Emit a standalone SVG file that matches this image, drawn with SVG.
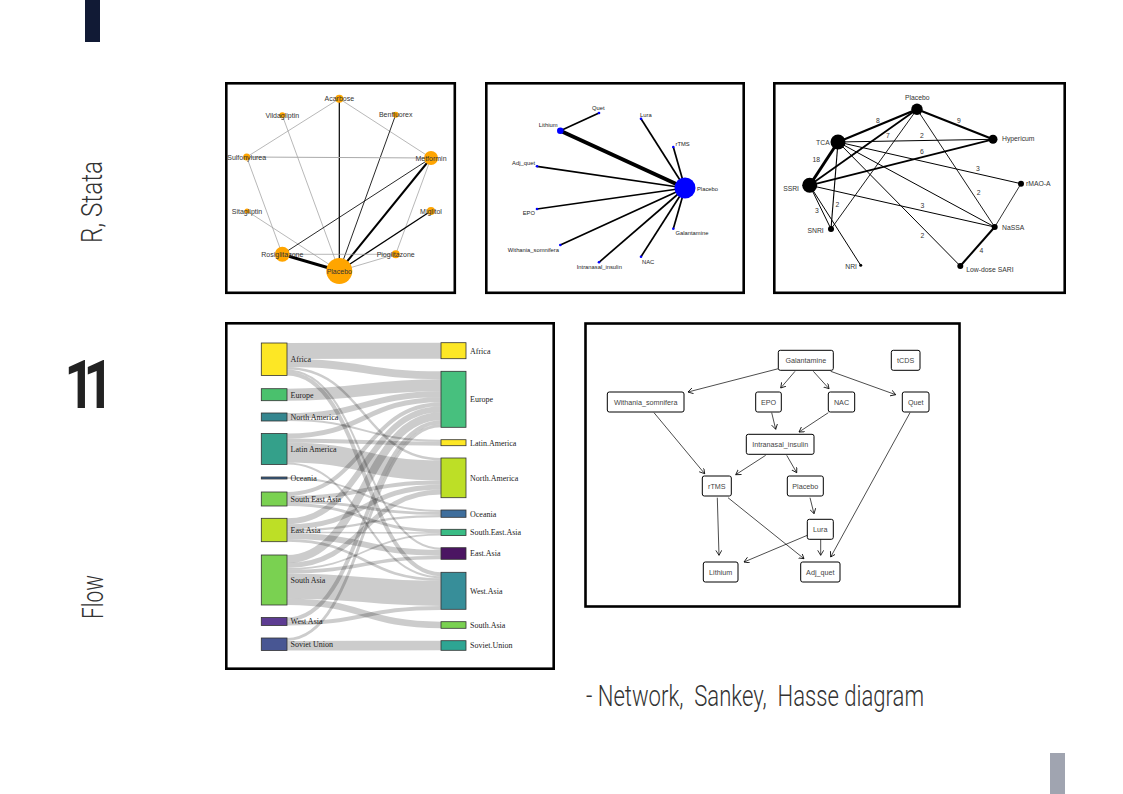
<svg xmlns="http://www.w3.org/2000/svg" width="1123" height="794" viewBox="0 0 1123 794">
<defs>
<style>
.panel{fill:#fff;stroke:#000;stroke-width:2.6}
.slide{font-family:"Roboto","Liberation Sans",sans-serif;fill:#333;font-weight:300}
.big{font-family:"Roboto","Liberation Sans",sans-serif;fill:#222;font-weight:700}
.n1{fill:#FFA500}
.t1{font-family:"Liberation Sans",Arial,sans-serif;font-size:7px;fill:#333;text-anchor:middle}
.t2{font-family:"Liberation Sans",Arial,sans-serif;font-size:5.8px;fill:#222}
.t3{font-family:"Liberation Sans",Arial,sans-serif;font-size:6.8px;fill:#333}
.t5{font-family:"Liberation Sans",Arial,sans-serif;font-size:7.2px;fill:#444;text-anchor:middle}
.ts{font-family:"Liberation Serif","Times New Roman",serif;font-size:8px;fill:#222}
.lk{fill:none;stroke:#000;stroke-opacity:0.2}
.sn{stroke:#333;stroke-width:0.8}
.hb{fill:#fff;stroke:#000;stroke-width:1}
.ha{fill:none;stroke:#000;stroke-width:0.7;marker-end:url(#arr)}
</style>
<marker id="arr" markerUnits="userSpaceOnUse" markerWidth="8" markerHeight="8" refX="5" refY="3" orient="auto">
<path d="M0,0 L5,3 L0,6" fill="none" stroke="#000" stroke-width="0.8"/>
</marker>
</defs>
<rect width="1123" height="794" fill="#fff"/>
<g id="slide">
<rect x="85" y="0" width="15" height="42" fill="#111a35"/>
<rect x="1050" y="753" width="15" height="41" fill="#a0a4b0"/>
<text class="slide" transform="translate(102,243) rotate(-90)" font-size="29" textLength="82" lengthAdjust="spacingAndGlyphs">R, Stata</text>
<text class="slide" transform="translate(103,619) rotate(-90)" font-size="29" textLength="44" lengthAdjust="spacingAndGlyphs">Flow</text>
<text class="big" transform="translate(68,408) scale(0.78,1)" x="-4.5 19.9" y="0" font-size="67">11</text>
<text class="slide" x="586" y="706" font-size="29" fill="#222" textLength="338" lengthAdjust="spacingAndGlyphs">- Network,&#160; Sankey,&#160; Hasse diagram</text>
</g>
<g id="panel1">
<rect class="panel" x="226.3" y="83.3" width="228.5" height="209.5"/>
<g id="p1-edges" fill="none">
<line x1="339.3" y1="98.7" x2="339.3" y2="271" stroke="#000" stroke-width="1.2"/>
<line x1="339.3" y1="98.7" x2="246.7" y2="157" stroke="#999" stroke-width="0.7"/>
<line x1="339.3" y1="98.7" x2="431" y2="158" stroke="#999" stroke-width="0.7"/>
<line x1="282.3" y1="115.3" x2="339.3" y2="271" stroke="#999" stroke-width="0.7"/>
<line x1="395.7" y1="114.7" x2="339.3" y2="271" stroke="#111" stroke-width="0.9"/>
<line x1="246.7" y1="157" x2="431" y2="158" stroke="#aaa" stroke-width="1"/>
<line x1="246.7" y1="157" x2="282.3" y2="254.3" stroke="#999" stroke-width="0.7"/>
<line x1="247" y1="211" x2="339.3" y2="271" stroke="#999" stroke-width="0.7"/>
<line x1="431" y1="158" x2="282.3" y2="254.3" stroke="#111" stroke-width="0.9"/>
<line x1="431" y1="158" x2="339.3" y2="271" stroke="#000" stroke-width="2"/>
<line x1="431" y1="158" x2="395.7" y2="254.3" stroke="#999" stroke-width="0.7"/>
<line x1="431" y1="211" x2="339.3" y2="271" stroke="#000" stroke-width="1.3"/>
<line x1="282.3" y1="254.3" x2="339.3" y2="271" stroke="#000" stroke-width="3"/>
<line x1="282.3" y1="254.3" x2="395.7" y2="254.3" stroke="#999" stroke-width="0.7"/>
<line x1="395.7" y1="254.3" x2="339.3" y2="271" stroke="#999" stroke-width="0.7"/>
</g>
<g id="p1-acarbose"><circle class="n1" cx="339.3" cy="98.7" r="4"/><text class="t1" x="339.3" y="101.2">Acarbose</text></g>
<g id="p1-vildagliptin"><circle class="n1" cx="282.3" cy="115.3" r="3"/><text class="t1" x="282.3" y="117.8">Vildagliptin</text></g>
<g id="p1-benfluorex"><circle class="n1" cx="395.7" cy="114.7" r="3"/><text class="t1" x="395.7" y="117.2">Benfluorex</text></g>
<g id="p1-sulfonylurea"><circle class="n1" cx="246.7" cy="157" r="3.5"/><text class="t1" x="246.7" y="159.5">Sulfonylurea</text></g>
<g id="p1-metformin"><circle class="n1" cx="431" cy="158" r="7"/><text class="t1" x="431" y="160.5">Metformin</text></g>
<g id="p1-sitagliptin"><circle class="n1" cx="247" cy="211" r="2.5"/><text class="t1" x="247" y="213.5">Sitagliptin</text></g>
<g id="p1-miglitol"><circle class="n1" cx="431" cy="211" r="4"/><text class="t1" x="431" y="213.5">Miglitol</text></g>
<g id="p1-rosiglitazone"><circle class="n1" cx="282.3" cy="254.3" r="7.5"/><text class="t1" x="282.3" y="256.8">Rosiglitazone</text></g>
<g id="p1-pioglitazone"><circle class="n1" cx="395.7" cy="254.3" r="4"/><text class="t1" x="395.7" y="256.8">Pioglitazone</text></g>
<g id="p1-placebo"><circle class="n1" cx="339.3" cy="271" r="13"/><text class="t1" x="339.3" y="273.5">Placebo</text></g>
</g>
<g id="panel2">
<rect class="panel" x="486.3" y="83.3" width="257.4" height="209.5"/>
<g id="p2-edges" stroke="#000" fill="none">
<line x1="560.3" y1="130.7" x2="685" y2="188" stroke-width="4"/>
<line x1="560.3" y1="130.7" x2="599" y2="113" stroke-width="1.7"/>
<line x1="641" y1="118.7" x2="685" y2="188" stroke-width="1.7"/>
<line x1="673.3" y1="147" x2="685" y2="188" stroke-width="1.7"/>
<line x1="537" y1="166.3" x2="685" y2="188" stroke-width="1.7"/>
<line x1="537" y1="209" x2="685" y2="188" stroke-width="1.7"/>
<line x1="560.3" y1="245" x2="685" y2="188" stroke-width="1.7"/>
<line x1="599" y1="262.3" x2="685" y2="188" stroke-width="1.7"/>
<line x1="641" y1="256.7" x2="685" y2="188" stroke-width="1.7"/>
<line x1="673.3" y1="228.7" x2="685" y2="188" stroke-width="1.7"/>
</g>
<g id="p2-placebo"><circle cx="685" cy="188" r="10.5" fill="#00f"/><text class="t2" x="697" y="190.5">Placebo</text></g>
<g id="p2-lithium"><circle cx="560.3" cy="130.7" r="3.3" fill="#00f"/><text class="t2" x="557.5" y="127" text-anchor="end">Lithium</text></g>
<g id="p2-quet"><circle cx="599" cy="113" r="1.3" fill="#00f"/><text class="t2" x="598.3" y="110.3" text-anchor="middle">Quet</text></g>
<g id="p2-lura"><circle cx="641" cy="118.7" r="1.3" fill="#00f"/><text class="t2" x="640" y="117">Lura</text></g>
<g id="p2-rtms"><circle cx="673.3" cy="147" r="1.3" fill="#00f"/><text class="t2" x="675.5" y="145.7">rTMS</text></g>
<g id="p2-adjquet"><circle cx="537" cy="166.3" r="1.3" fill="#00f"/><text class="t2" x="535" y="165" text-anchor="end">Adj_quet</text></g>
<g id="p2-epo"><circle cx="537" cy="209" r="1.3" fill="#00f"/><text class="t2" x="535" y="215.3" text-anchor="end">EPO</text></g>
<g id="p2-withania"><circle cx="560.3" cy="245" r="1.3" fill="#00f"/><text class="t2" x="559" y="252" text-anchor="end">Withania_somnifera</text></g>
<g id="p2-intranasal"><circle cx="599" cy="262.3" r="1.3" fill="#00f"/><text class="t2" x="599.3" y="269" text-anchor="middle">Intranasal_insulin</text></g>
<g id="p2-nac"><circle cx="641" cy="256.7" r="1.3" fill="#00f"/><text class="t2" x="642" y="264">NAC</text></g>
<g id="p2-galantamine"><circle cx="673.3" cy="228.7" r="1.3" fill="#00f"/><text class="t2" x="675.5" y="235">Galantamine</text></g>
</g>
<g id="panel3">
<rect class="panel" x="774.3" y="83.3" width="290.4" height="209.5"/>
<g id="p3-edges" stroke="#000" fill="none">
<line x1="917" y1="109.3" x2="838" y2="142" stroke-width="2.2"/>
<line x1="917" y1="109.3" x2="993" y2="139.3" stroke-width="2"/>
<line x1="917" y1="109.3" x2="809.7" y2="185.3" stroke-width="1.8"/>
<line x1="917" y1="109.3" x2="831" y2="229" stroke-width="0.9"/>
<line x1="917" y1="109.3" x2="994.7" y2="227" stroke-width="0.9"/>
<line x1="838" y1="142" x2="809.7" y2="185.3" stroke-width="3"/>
<line x1="838" y1="142" x2="993" y2="139.3" stroke-width="1"/>
<line x1="838" y1="142" x2="1021" y2="183.7" stroke-width="1"/>
<line x1="838" y1="142" x2="994.7" y2="227" stroke-width="1"/>
<line x1="838" y1="142" x2="960.3" y2="266" stroke-width="1"/>
<line x1="838" y1="142" x2="831" y2="229" stroke-width="1.1"/>
<line x1="809.7" y1="185.3" x2="993" y2="139.3" stroke-width="1.8"/>
<line x1="809.7" y1="185.3" x2="994.7" y2="227" stroke-width="1"/>
<line x1="809.7" y1="185.3" x2="831" y2="229" stroke-width="1"/>
<line x1="809.7" y1="185.3" x2="860.7" y2="265.3" stroke-width="1"/>
<line x1="994.7" y1="227" x2="1021" y2="183.7" stroke-width="0.8"/>
<line x1="994.7" y1="227" x2="960.3" y2="266" stroke-width="2"/>
</g>
<g id="p3-edge-labels" class="t3" text-anchor="middle">
<text x="878" y="122.5">8</text>
<text x="959" y="122.5">9</text>
<text x="888" y="137.5">7</text>
<text x="922" y="137.5">2</text>
<text x="922" y="153.5">6</text>
<text x="816.3" y="161.5">18</text>
<text x="978" y="171">3</text>
<text x="978.7" y="195">2</text>
<text x="922.3" y="207.5">3</text>
<text x="837.3" y="207">2</text>
<text x="817" y="212.5">3</text>
<text x="922.3" y="238.3">2</text>
<text x="981.3" y="252.5">4</text>
</g>
<g id="p3-placebo"><circle cx="917" cy="109.3" r="5.7"/><text class="t3" x="917.3" y="100.3" text-anchor="middle">Placebo</text></g>
<g id="p3-tca"><circle cx="838" cy="142" r="7.5"/><text class="t3" x="829.7" y="144.5" text-anchor="end">TCA</text></g>
<g id="p3-ssri"><circle cx="809.7" cy="185.3" r="7.5"/><text class="t3" x="799" y="191.3" text-anchor="end">SSRI</text></g>
<g id="p3-hypericum"><circle cx="993" cy="139.3" r="4.5"/><text class="t3" x="1002" y="141.2">Hypericum</text></g>
<g id="p3-rmaoa"><circle cx="1021" cy="183.7" r="3"/><text class="t3" x="1026" y="186.2">rMAO-A</text></g>
<g id="p3-snri"><circle cx="831" cy="229" r="3"/><text class="t3" x="823.7" y="232.6" text-anchor="end">SNRI</text></g>
<g id="p3-nassa"><circle cx="994.7" cy="227" r="3"/><text class="t3" x="1002" y="230">NaSSA</text></g>
<g id="p3-nri"><circle cx="860.7" cy="265.3" r="1.5"/><text class="t3" x="857" y="269.3" text-anchor="end">NRI</text></g>
<g id="p3-lowdosesari"><circle cx="960.3" cy="266" r="3"/><text class="t3" x="966.3" y="271.6">Low-dose SARI</text></g>
</g>
<g id="panel4">
<rect class="panel" x="226.3" y="323.3" width="327.4" height="345.4"/>
<g id="sankey-links" class="lk">
<path d="M287,351 C364,351 364,350.7 441,350.7" stroke-width="16"/>
<path d="M287,363 C364,363 364,375.3 441,375.3" stroke-width="8"/>
<path d="M287,368.25 C364,368.25 364,459.25 441,459.25" stroke-width="2.5"/>
<path d="M287,370.5 C364,370.5 364,548.7 441,548.7" stroke-width="2"/>
<path d="M287,373.5 C364,373.5 364,574.3 441,574.3" stroke-width="4"/>
<path d="M287,394.7 C364,394.7 364,385.3 441,385.3" stroke-width="12"/>
<path d="M287,416 C364,416 364,394.3 441,394.3" stroke-width="6"/>
<path d="M287,420 C364,420 364,440.7 441,440.7" stroke-width="2"/>
<path d="M287,436 C364,436 364,399.8 441,399.8" stroke-width="5"/>
<path d="M287,440.5 C364,440.5 364,443.7 441,443.7" stroke-width="4"/>
<path d="M287,452.5 C364,452.5 364,470.5 441,470.5" stroke-width="20"/>
<path d="M287,463.5 C364,463.5 364,577.3 441,577.3" stroke-width="2"/>
<path d="M287,478 C364,478 364,511 441,511" stroke-width="2"/>
<path d="M287,494 C364,494 364,404.3 441,404.3" stroke-width="4"/>
<path d="M287,498 C364,498 364,482.5 441,482.5" stroke-width="4"/>
<path d="M287,501.5 C364,501.5 364,513.5 441,513.5" stroke-width="3"/>
<path d="M287,504.5 C364,504.5 364,530.8 441,530.8" stroke-width="3"/>
<path d="M287,521.3 C364,521.3 364,409.3 441,409.3" stroke-width="6"/>
<path d="M287,526.8 C364,526.8 364,487 441,487" stroke-width="5"/>
<path d="M287,530.45 C364,530.45 364,516.15 441,516.15" stroke-width="2.3"/>
<path d="M287,532.35 C364,532.35 364,533.05 441,533.05" stroke-width="1.5"/>
<path d="M287,536.1 C364,536.1 364,552.7 441,552.7" stroke-width="6"/>
<path d="M287,540.4 C364,540.4 364,579.6 441,579.6" stroke-width="2.6"/>
<path d="M287,559 C364,559 364,416.3 441,416.3" stroke-width="8"/>
<path d="M287,565.5 C364,565.5 364,492 441,492" stroke-width="5"/>
<path d="M287,568.9 C364,568.9 364,534.7 441,534.7" stroke-width="1.8"/>
<path d="M287,571.6 C364,571.6 364,557.5 441,557.5" stroke-width="3.6"/>
<path d="M287,585.9 C364,585.9 364,593.4 441,593.4" stroke-width="25"/>
<path d="M287,601.7 C364,601.7 364,625 441,625" stroke-width="6.6"/>
<path d="M287,619.5 C364,619.5 364,422.3 441,422.3" stroke-width="4"/>
<path d="M287,623.5 C364,623.5 364,607.9 441,607.9" stroke-width="4"/>
<path d="M287,639.45 C364,639.45 364,425.75 441,425.75" stroke-width="2.9"/>
<path d="M287,645.7 C364,645.7 364,645.5 441,645.5" stroke-width="9.6"/>
</g>
<g id="sl-africa"><rect class="sn" x="261.3" y="343" width="25.7" height="32.5" fill="#FDE725"/><text class="ts" x="290.5" y="362">Africa</text></g>
<g id="sl-europe"><rect class="sn" x="261.3" y="388.7" width="25.7" height="12" fill="#4AC16D"/><text class="ts" x="290.5" y="397.5">Europe</text></g>
<g id="sl-namerica"><rect class="sn" x="261.3" y="413" width="25.7" height="8" fill="#35868F"/><text class="ts" x="290.5" y="419.8">North America</text></g>
<g id="sl-latam"><rect class="sn" x="261.3" y="433.5" width="25.7" height="31" fill="#34A08A"/><text class="ts" x="290.5" y="451.8">Latin America</text></g>
<g id="sl-oceania"><rect class="sn" x="261.3" y="477" width="25.7" height="2" fill="#365F8D"/><text class="ts" x="290.5" y="480.8">Oceania</text></g>
<g id="sl-sea"><rect class="sn" x="261.3" y="492" width="25.7" height="14" fill="#7AD151"/><text class="ts" x="290.5" y="501.8">South East Asia</text></g>
<g id="sl-eastasia"><rect class="sn" x="261.3" y="518.3" width="25.7" height="23.4" fill="#BDDF26"/><text class="ts" x="290.5" y="532.8">East Asia</text></g>
<g id="sl-southasia"><rect class="sn" x="261.3" y="555" width="25.7" height="50" fill="#7AD151"/><text class="ts" x="290.5" y="582.8">South Asia</text></g>
<g id="sl-westasia"><rect class="sn" x="261.3" y="617.5" width="25.7" height="8" fill="#5D3C92"/><text class="ts" x="290.5" y="624.3">West Asia</text></g>
<g id="sl-soviet"><rect class="sn" x="261.3" y="638" width="25.7" height="12.5" fill="#485693"/><text class="ts" x="290.5" y="647">Soviet Union</text></g>
<g id="sr-africa"><rect class="sn" x="441" y="342.7" width="25" height="16" fill="#FDE725"/><text class="ts" x="470" y="353.5">Africa</text></g>
<g id="sr-europe"><rect class="sn" x="441" y="371.3" width="25" height="56" fill="#47C07E"/><text class="ts" x="470" y="402.2">Europe</text></g>
<g id="sr-latam"><rect class="sn" x="441" y="439.7" width="25" height="6" fill="#FDE725"/><text class="ts" x="470" y="445.5">Latin.America</text></g>
<g id="sr-namerica"><rect class="sn" x="441" y="458" width="25" height="39.7" fill="#BDDF26"/><text class="ts" x="470" y="480.7">North.America</text></g>
<g id="sr-oceania"><rect class="sn" x="441" y="510" width="25" height="7.3" fill="#3F6E9C"/><text class="ts" x="470" y="516.5">Oceania</text></g>
<g id="sr-sea"><rect class="sn" x="441" y="529.3" width="25" height="6.3" fill="#3ABC85"/><text class="ts" x="470" y="535.3">South.East.Asia</text></g>
<g id="sr-eastasia"><rect class="sn" x="441" y="547.7" width="25" height="11.6" fill="#4B1562"/><text class="ts" x="470" y="556.3">East.Asia</text></g>
<g id="sr-westasia"><rect class="sn" x="441" y="572.3" width="25" height="37" fill="#378E99"/><text class="ts" x="470" y="593.6">West.Asia</text></g>
<g id="sr-southasia"><rect class="sn" x="441" y="621.7" width="25" height="6.6" fill="#7AD151"/><text class="ts" x="470" y="627.8">South.Asia</text></g>
<g id="sr-soviet"><rect class="sn" x="441" y="640.7" width="25" height="9.6" fill="#2EA593"/><text class="ts" x="470" y="648.3">Soviet.Union</text></g>
</g>
<g id="panel5">
<rect class="panel" x="585.5" y="323.5" width="374" height="283"/>
<g id="hasse-edges">
<line class="ha" x1="778.3" y1="368.7" x2="688" y2="392"/>
<line class="ha" x1="795" y1="371.3" x2="780.7" y2="388"/>
<line class="ha" x1="813.3" y1="371.3" x2="829" y2="388.7"/>
<line class="ha" x1="830.7" y1="371.3" x2="895.7" y2="394.7"/>
<line class="ha" x1="654" y1="412.7" x2="704.7" y2="473.7"/>
<line class="ha" x1="771.7" y1="412.7" x2="775.7" y2="429.3"/>
<line class="ha" x1="828.3" y1="412.7" x2="799" y2="432"/>
<line class="ha" x1="765.7" y1="455.3" x2="735.7" y2="474.7"/>
<line class="ha" x1="786.7" y1="455.3" x2="796.7" y2="472.7"/>
<line class="ha" x1="810" y1="497.7" x2="814" y2="513.7"/>
<line class="ha" x1="717.3" y1="497.7" x2="719" y2="555.3"/>
<line class="ha" x1="728" y1="497.7" x2="804" y2="558.7"/>
<line class="ha" x1="807.3" y1="535.3" x2="744" y2="562"/>
<line class="ha" x1="820.7" y1="539.3" x2="820.7" y2="555.3"/>
<line class="ha" x1="910" y1="412.7" x2="830.7" y2="557"/>
</g>
<g id="h-galantamine"><rect class="hb" x="778.3" y="350.3" width="55" height="20" rx="2"/><text class="t5" x="805.8" y="362.8">Galantamine</text></g>
<g id="h-tcds"><rect class="hb" x="891.3" y="350.3" width="28.7" height="20" rx="2"/><text class="t5" x="905.7" y="362.8">tCDS</text></g>
<g id="h-withania"><rect class="hb" x="607.3" y="392" width="76.7" height="20" rx="2"/><text class="t5" x="645.7" y="404.5">Withania_somnifera</text></g>
<g id="h-epo"><rect class="hb" x="755.7" y="392" width="25.6" height="20" rx="2"/><text class="t5" x="768.5" y="404.5">EPO</text></g>
<g id="h-nac"><rect class="hb" x="828.3" y="392" width="26.4" height="20" rx="2"/><text class="t5" x="841.5" y="404.5">NAC</text></g>
<g id="h-quet"><rect class="hb" x="902.3" y="392" width="26.7" height="20" rx="2"/><text class="t5" x="915.7" y="404.5">Quet</text></g>
<g id="h-intranasal"><rect class="hb" x="746.3" y="434.3" width="67.7" height="20" rx="2"/><text class="t5" x="780.2" y="446.8">Intranasal_insulin</text></g>
<g id="h-rtms"><rect class="hb" x="702.3" y="476" width="29" height="20" rx="2"/><text class="t5" x="716.8" y="488.5">rTMS</text></g>
<g id="h-placebo"><rect class="hb" x="787.3" y="476" width="36" height="20" rx="2"/><text class="t5" x="805.3" y="488.5">Placebo</text></g>
<g id="h-lura"><rect class="hb" x="807.3" y="519.3" width="26" height="20" rx="2"/><text class="t5" x="820.3" y="531.8">Lura</text></g>
<g id="h-lithium"><rect class="hb" x="703.3" y="562" width="34.7" height="20" rx="2"/><text class="t5" x="720.7" y="574.5">Lithium</text></g>
<g id="h-adjquet"><rect class="hb" x="800.7" y="562" width="39.3" height="20" rx="2"/><text class="t5" x="820.3" y="574.5">Adj_quet</text></g>
</g>
</svg>
